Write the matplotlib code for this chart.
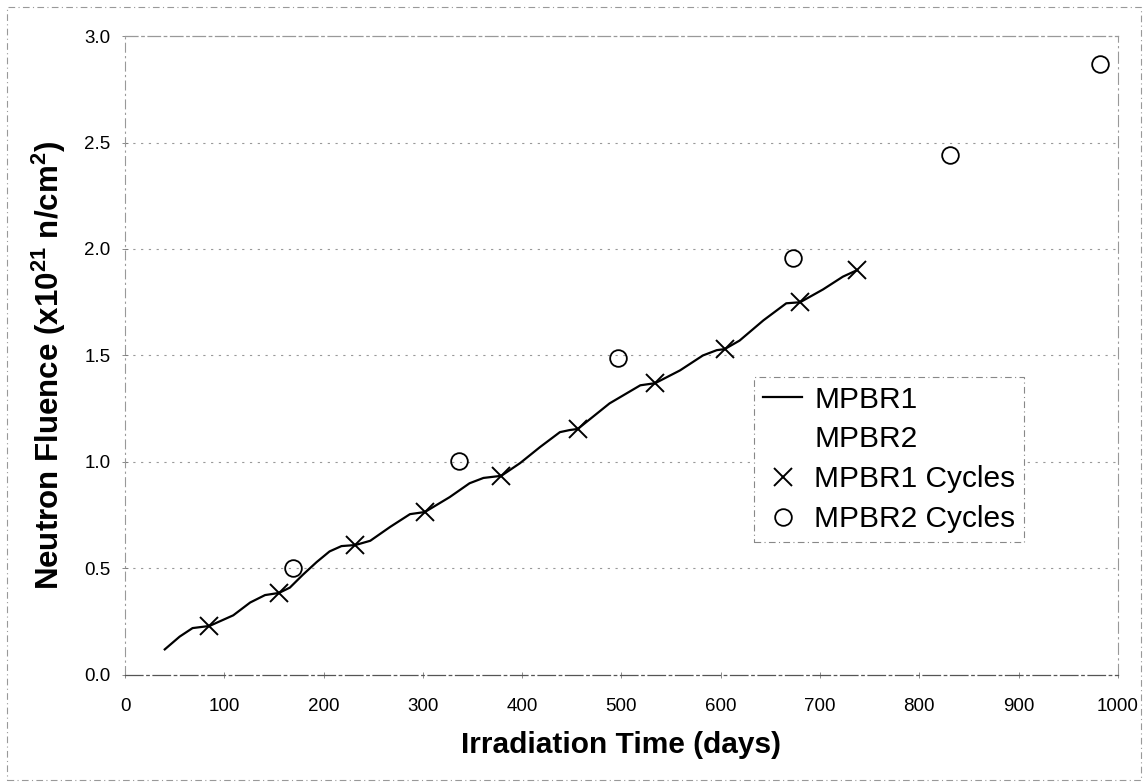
import matplotlib
matplotlib.use("Agg")
import matplotlib.pyplot as plt
from matplotlib.patches import Rectangle

plt.rcParams['font.family'] = ['Liberation Sans', 'DejaVu Sans']
plt.rcParams['mathtext.fontset'] = 'custom'
plt.rcParams['mathtext.rm'] = 'Liberation Sans'
plt.rcParams['mathtext.bf'] = 'Liberation Sans:bold'

# MPBR1 fluence curve
mpbr1_days = [40, 55, 68, 85, 109, 126, 141, 155, 166, 179, 193, 206, 218, 232,
              247, 267, 287, 302, 327, 347, 361, 379, 398, 418, 438, 448, 456,
              468, 488, 519, 534, 559, 582, 596, 604, 619, 643, 666, 680, 703,
              723, 737]
mpbr1_flu = [0.12, 0.18, 0.22, 0.23, 0.28, 0.34, 0.375, 0.385, 0.41, 0.47, 0.53,
             0.58, 0.605, 0.61, 0.63, 0.695, 0.755, 0.765, 0.835, 0.90, 0.925,
             0.935, 0.995, 1.07, 1.14, 1.15, 1.155, 1.20, 1.275, 1.36, 1.37,
             1.43, 1.50, 1.525, 1.53, 1.57, 1.665, 1.745, 1.75, 1.81, 1.87, 1.90]

# MPBR2 curve is in the legend only, nothing drawn
mpbr2_days = []
mpbr2_flu = []

# end-of-cycle points
mpbr1_cyc_days = [85, 155, 232, 302, 379, 456, 534, 604, 680, 737]
mpbr1_cyc_flu = [0.23, 0.385, 0.61, 0.765, 0.935, 1.155, 1.37, 1.53, 1.75, 1.90]
mpbr2_cyc_days = [169, 336, 497, 673, 831, 982]
mpbr2_cyc_flu = [0.50, 1.005, 1.49, 1.96, 2.44, 2.87]

xticks = [0, 100, 200, 300, 400, 500, 600, 700, 800, 900, 1000]
yticks = [0.0, 0.5, 1.0, 1.5, 2.0, 2.5, 3.0]

fig = plt.figure(figsize=(11.43, 7.83), dpi=100)
ax = fig.add_axes([0.1094, 0.138, 0.8686, 0.816])

# outer dashed frame of the scanned chart
fig.patches.append(Rectangle((0.006, 0.004), 0.992, 0.987, transform=fig.transFigure,
                             fill=False, ec='#999999', lw=0.8, ls=(0, (6, 3, 1, 3))))

ax.plot(mpbr1_days, mpbr1_flu, color='black', lw=1.6, label='MPBR1')
ax.plot(mpbr2_days, mpbr2_flu, linestyle='none', label='MPBR2')
ax.plot(mpbr1_cyc_days, mpbr1_cyc_flu, linestyle='none', marker='x', ms=13,
        mew=1.4, color='black', label='MPBR1 Cycles')
ax.plot(mpbr2_cyc_days, mpbr2_cyc_flu, linestyle='none', marker='o', ms=12,
        mew=1.3, mfc='none', mec='black', label='MPBR2 Cycles')

ax.set_xlim(0, 1000)
ax.set_ylim(0, 3.0)
ax.set_xticks(xticks)
ax.set_yticks(yticks)
ax.set_xticklabels([str(t) for t in xticks])
ax.set_yticklabels(['%.1f' % t for t in yticks])
ax.tick_params(axis='x', direction='inout', length=5, width=0.6, color='#777777',
               labelsize=13.5, pad=14)
ax.tick_params(axis='y', direction='inout', length=5, width=0.6, color='#777777',
               labelsize=13.5, pad=8)

for y in yticks[1:-1]:
    ax.axhline(y, color='#999999', lw=0.8, ls=(0, (2, 5)), zorder=0)

ax.spines['left'].set_color('#999999')
ax.spines['left'].set_linestyle((0, (8, 4, 1, 4)))
ax.spines['left'].set_linewidth(0.8)
ax.spines['top'].set_color('#999999')
ax.spines['top'].set_linestyle((0, (10, 3, 2, 3)))
ax.spines['top'].set_linewidth(0.9)
ax.spines['right'].set_color('#999999')
ax.spines['right'].set_linestyle((0, (10, 4, 1, 4)))
ax.spines['right'].set_linewidth(0.8)
ax.spines['bottom'].set_color('#555555')
ax.spines['bottom'].set_linestyle((0, (14, 3, 2, 3)))
ax.spines['bottom'].set_linewidth(0.9)

ax.set_xlabel('Irradiation Time (days)', fontsize=21.5, fontweight='bold')
ax.xaxis.set_label_coords(0.5, -0.088)
ax.xaxis.label.set_va('top')
ax.set_ylabel(r'Neutron Fluence (x10$^{\mathbf{21}}$ n/cm$^{\mathbf{2}}$)',
              fontsize=22.5, fontweight='bold')
ax.yaxis.set_label_coords(-0.057, 0.484)

leg = ax.legend(loc='upper left', bbox_to_anchor=(0.634, 0.467), fontsize=21.5,
                frameon=True, fancybox=False, borderaxespad=0, borderpad=0.3,
                labelspacing=0.4, handlelength=1.3, handletextpad=0.4)
frame = leg.get_frame()
frame.set_edgecolor('#888888')
frame.set_linestyle((0, (6, 3, 1, 3)))
frame.set_linewidth(0.8)
frame.set_alpha(1)

fig.savefig('out.png', dpi=100)
